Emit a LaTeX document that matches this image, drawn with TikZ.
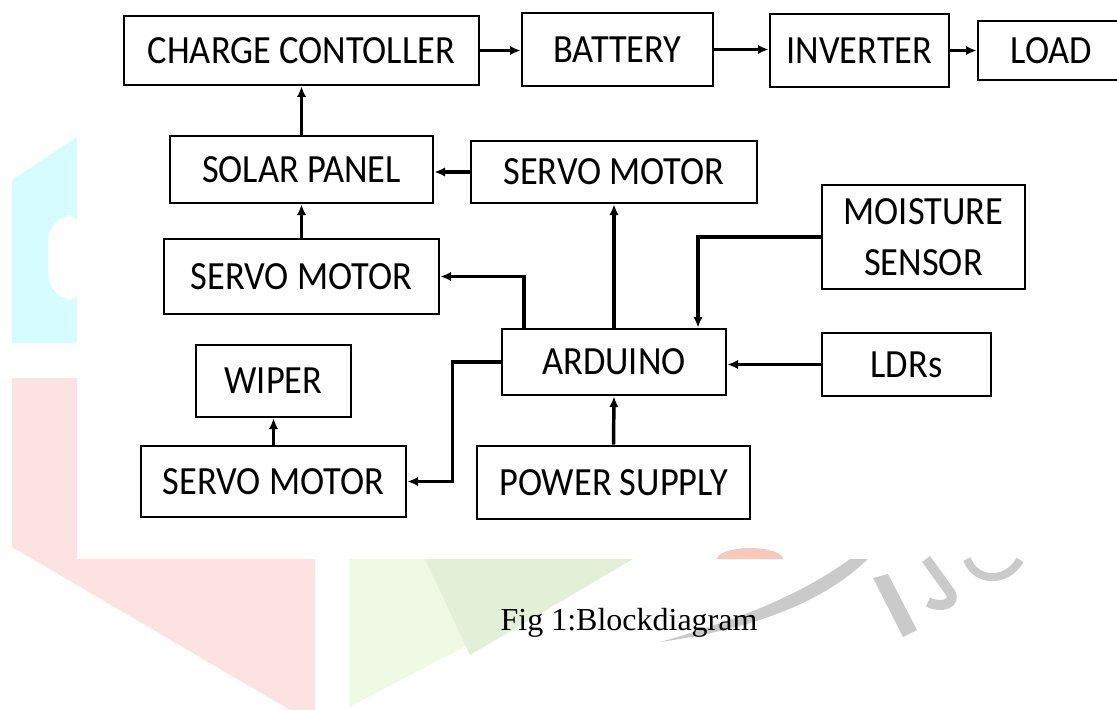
\documentclass[tikz,border=0pt]{standalone}
\usepackage{fontspec}
\setmainfont{Carlito}[FakeStretch=0.91]
\newfontfamily\capfont{Liberation Serif}
\usetikzlibrary{arrows.meta}
\definecolor{wmcyan}{HTML}{D5FCFE}
\definecolor{wmpink}{HTML}{FDE2E2}
\definecolor{wmgreen}{HTML}{EFF9E4}
\definecolor{wmgreenb}{HTML}{E3F0D7}
\definecolor{wmgrey}{HTML}{CACACA}
\definecolor{wmred}{HTML}{F7C9BA}
\tikzset{blk/.style={draw,rectangle,line width=2pt,inner sep=0pt,font=\fontsize{30}{38}\selectfont}}
\tikzset{arr/.style={->,line width=2.6pt}}
\tikzset{>={Latex[length=8pt,width=7pt]}}

\begin{document}
\begin{tikzpicture}[x=0.75pt,y=-0.75pt]
	\useasboundingbox (0,0) rectangle (1117,710);
	% watermark
	\fill[wmcyan] (12,180) -- (77,137) -- (77,343) -- (12,343) -- cycle;
	\fill[white,rounded corners=20pt] (48,215) rectangle (90,300);
	\fill[wmpink] (12,378) -- (77,378) -- (77,559) -- (315,559) -- (315,710) -- (290,710) -- (12,547) -- cycle;
	\fill[wmgreen] (349,559) -- (633,559) -- (349,707) -- cycle;
	\fill[wmgreenb] (425,559) -- (633,559) -- (470,655) -- cycle;
	\fill[wmred] (717,559) arc[start angle=180,end angle=360,x radius=33,y radius=11] -- cycle;
	\fill[wmgrey] (660,642) .. controls (760,628) and (825,600) .. (868,559) -- (850,559) .. controls (805,592) and (745,618) .. (660,642) -- cycle;
	\fill[wmgrey] (873,578) -- (888,574) -- (917,630) -- (903,637) -- cycle;
	\draw[wmgrey,line width=7.5pt] (926,559) -- (950,592) .. controls (957,603) and (942,609) .. (928,602);
	\draw[wmgrey,line width=6pt] (967,559) .. controls (975,582) and (1006,584) .. (1020,560);
	% blocks
	\node[blk,minimum width=266.25pt,minimum height=51.75pt] (cc) at (301.5,50.5) {CHARGE CONTOLLER};
	\node[blk,minimum width=143.25pt,minimum height=54.75pt] (bat) at (617.5,49.5) {BATTERY};
	\node[blk,minimum width=134.25pt,minimum height=54.75pt] (inv) at (859.5,50.5) {INVERTER};
	\node[blk,minimum width=110.25pt,minimum height=44.25pt] (load) at (1051.5,50.5) {LOAD};
	\node[blk,minimum width=197.25pt,minimum height=50.25pt] (solar) at (301.5,169.5) {SOLAR PANEL};
	\node[blk,minimum width=214.5pt,minimum height=46.5pt] (servoA) at (614,172) {SERVO MOTOR};
	\node[blk,minimum width=206.25pt,minimum height=56.25pt] (servoB) at (301.5,276.5) {SERVO MOTOR};
	\node[blk,minimum width=152.25pt,minimum height=78pt,align=center] (moist) at (923.5,237) {MOISTURE\\SENSOR};
	\node[blk,minimum width=168pt,minimum height=49.5pt] (ard) at (614,362) {ARDUINO};
	\node[blk,minimum width=126.75pt,minimum height=47.25pt] (ldr) at (906.5,364.5) {LDRs};
	\node[blk,minimum width=116.25pt,minimum height=54pt] (wiper) at (273.5,381) {WIPER};
	\node[blk,minimum width=198.75pt,minimum height=53.25pt] (servoC) at (273.5,481.5) {SERVO MOTOR};
	\node[blk,minimum width=204.75pt,minimum height=54.75pt] (power) at (613.5,482.5) {POWER SUPPLY};
	\node[font=\capfont\fontsize{24}{28}\selectfont] (cap) at (629,623) {Fig 1:Blockdiagram};
	% connectors
	\draw[arr] (cc.east) -- (cc.east -| bat.west);
	\draw[arr] (bat.east) -- (bat.east -| inv.west);
	\draw[arr] (inv.east) -- (inv.east -| load.west);
	\draw[arr] (solar.north) -- (cc.south);
	\draw[arr] (servoB.north) -- (solar.south);
	\draw[arr] (servoA.west) -- (servoA.west -| solar.east);
	\draw[arr] (ard.north) -- (servoA.south);
	\draw[arr] ([xshift=-67.5pt]ard.north) |- (servoB.east);
	\draw[arr] (moist.west) -| ([xshift=63pt]ard.north);
	\draw[arr] (ldr.west) -- (ldr.west -| ard.east);
	\draw[arr] (power.north) -- (ard.south);
	\draw[arr] (ard.west) -- ++(-48,0) |- (servoC.east);
	\draw[arr] (servoC.north) -- (wiper.south);
\end{tikzpicture}
\end{document}
